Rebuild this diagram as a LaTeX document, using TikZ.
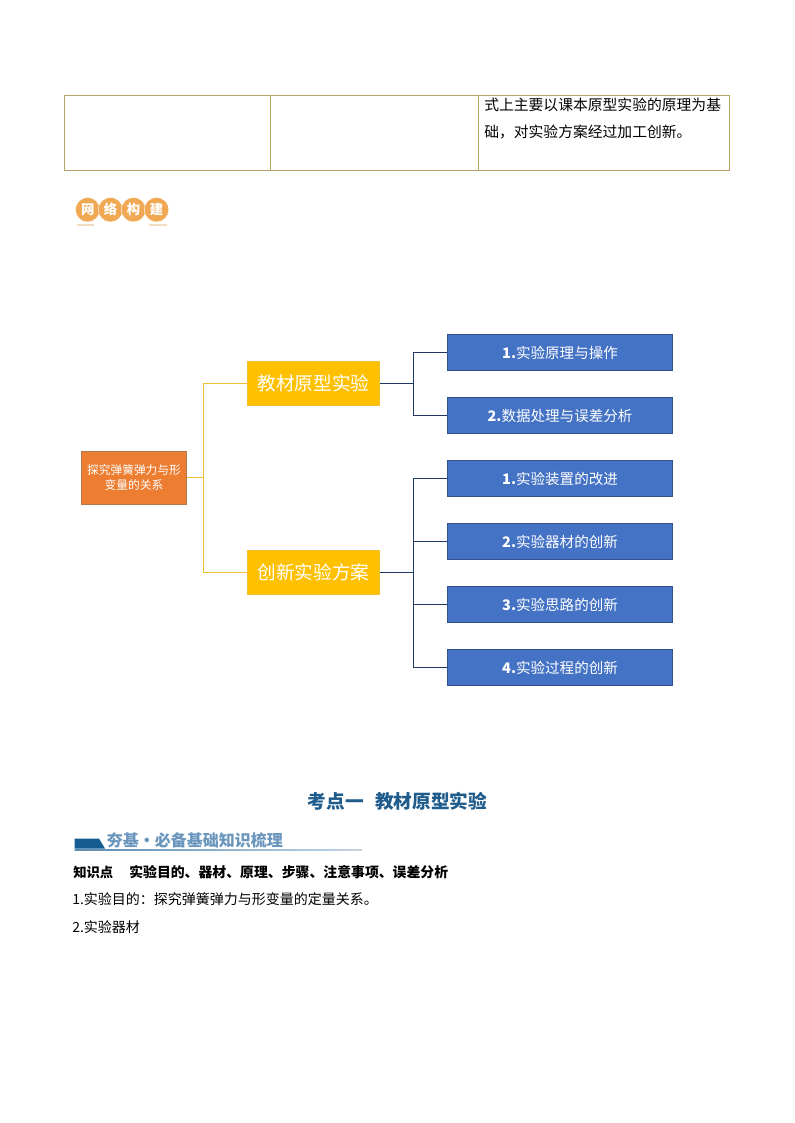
\documentclass[tikz,border=0pt]{standalone}
\usepackage{fontspec}
\setmainfont{Noto Sans CJK SC}
\definecolor{tblline}{HTML}{B8A268}
\definecolor{rootfill}{HTML}{ED7D31}
\definecolor{rootline}{HTML}{AE7A50}
\definecolor{yellowfill}{HTML}{FFC000}
\definecolor{yellowline}{HTML}{F0C030}
\definecolor{bluefill}{HTML}{4472C4}
\definecolor{blueline}{HTML}{2F528F}
\definecolor{navyline}{HTML}{1F3864}
\definecolor{titleblue}{HTML}{1F5C8C}
\definecolor{headblue}{HTML}{6A95BC}
\definecolor{tabblue}{HTML}{155C90}
\definecolor{coin}{HTML}{F0A952}
\definecolor{coinbar}{HTML}{F3DCC0}
\tikzset{
  tblrule/.style={draw=tblline,line width=0.8pt},
  rootbox/.style={draw=rootline,line width=0.6pt,fill=rootfill,text=white,minimum width=79.1pt,minimum height=39.8pt,inner sep=0pt,align=center,font=\fontsize{8.8pt}{10.6pt}\selectfont},
  yellowbox/.style={draw=yellowline,line width=0.6pt,fill=yellowfill,text=white,minimum width=99.4pt,minimum height=32.6pt,inner sep=0pt,font=\fontsize{14pt}{16pt}\selectfont},
  leafbox/.style={draw=blueline,line width=0.6pt,fill=bluefill,text=white,minimum width=169.1pt,minimum height=27.4pt,inner sep=0pt,font=\fontsize{10.9pt}{13pt}\selectfont},
  goldconn/.style={draw=yellowline,line width=0.9pt},
  navyconn/.style={draw=navyline,line width=0.9pt},
  coinnode/.style={circle,draw=white,line width=0.3pt,fill=coin,text=white,minimum size=18.4pt,inner sep=0pt,font=\fontsize{10pt}{10pt}\selectfont\bfseries},
  bodytext/.style={anchor=west,inner sep=0pt,text=black,font=\fontsize{10.5pt}{12pt}\selectfont},
  celltext/.style={anchor=west,inner sep=0pt,text=black,font=\fontsize{11.1pt}{13pt}\selectfont},
}
\begin{document}
\begin{tikzpicture}[x=0.75pt,y=-0.75pt]
\useasboundingbox[fill=white] (0,0) rectangle (794,1123);
% table
\draw[tblrule] (64.5,95.5) rectangle (729.5,170.5);
\draw[tblrule] (270.5,95.5) -- (270.5,170.5);
\draw[tblrule] (478.5,95.5) -- (478.5,170.5);
\node[celltext] (cella) at (484,105) {式上主要以课本原型实验的原理为基};
\node[celltext] (cellb) at (484,132.5) {础，对实验方案经过加工创新。};
% badge
\fill[coinbar] (77,224.5) rectangle (94,226.5);
\fill[coinbar] (149,224.5) rectangle (167,226.5);
\node[coinnode] (c1) at (87.7,209.7) {网};
\node[coinnode] (c2) at (110.5,209.7) {络};
\node[coinnode] (c3) at (133.5,209.7) {构};
\node[coinnode] (c4) at (156.5,209.7) {建};
% mind map
\node[rootbox] (root) at (134,477.5) {探究弹簧弹力与形\\变量的关系};
\node[yellowbox] (ya) at (313.4,383.5) {教材原型实验};
\node[yellowbox] (yb) at (313.4,572.5) {创新实验方案};
\node[leafbox] (la) at (560,352.5) {\textbf{1.}实验原理与操作};
\node[leafbox] (lb) at (560,415.5) {\textbf{2.}数据处理与误差分析};
\node[leafbox] (lc) at (560,478.5) {\textbf{1.}实验装置的改进};
\node[leafbox] (ld) at (560,541.5) {\textbf{2.}实验器材的创新};
\node[leafbox] (le) at (560,604.5) {\textbf{3.}实验思路的创新};
\node[leafbox] (lf) at (560,667.5) {\textbf{4.}实验过程的创新};
\coordinate (busroot) at (203.5,477.5);
\coordinate (busa) at (413.5,383.5);
\coordinate (busb) at (413.5,572.5);
\draw[goldconn] (root.east) -- (busroot);
\draw[goldconn] (busroot) |- (ya.west);
\draw[goldconn] (busroot) |- (yb.west);
\draw[navyconn] (ya.east) -- (busa);
\draw[navyconn] (busa) |- (la.west);
\draw[navyconn] (busa) |- (lb.west);
\draw[navyconn] (yb.east) -- (busb);
\draw[navyconn] (busb) |- (lc.west);
\draw[navyconn] (busb) |- (ld.west);
\draw[navyconn] (busb) |- (le.west);
\draw[navyconn] (busb) |- (lf.west);
% headings
\node[anchor=center,inner sep=0pt,text=titleblue,font=\fontsize{14pt}{16pt}\selectfont\bfseries] (title) at (397.5,801) {考点一\hspace{0.6em}教材原型实验};
\fill[tabblue] (74.5,838.5) -- (99,838.5) -- (105,848.5) -- (74.5,848.5) -- cycle;
\shade[left color=tabblue!70,right color=headblue!40] (74.5,849.5) rectangle (362,850.7);
\node[anchor=west,inner sep=0pt,text=headblue,font=\fontsize{12pt}{14pt}\selectfont\bfseries] (head) at (106.5,840.5) {夯基·必备基础知识梳理};
\node[bodytext,font=\fontsize{10pt}{12pt}\selectfont\bfseries] (k1) at (73,872) {知识点};
\node[bodytext,font=\fontsize{10.4pt}{12pt}\selectfont\bfseries] (k2) at (129,872) {实验目的、器材、原理、步骤、注意事项、误差分析};
\node[bodytext] (p1) at (72,899.5) {1.实验目的：探究弹簧弹力与形变量的定量关系。};
\node[bodytext] (p2) at (72,927.5) {2.实验器材};
\end{tikzpicture}
\end{document}
